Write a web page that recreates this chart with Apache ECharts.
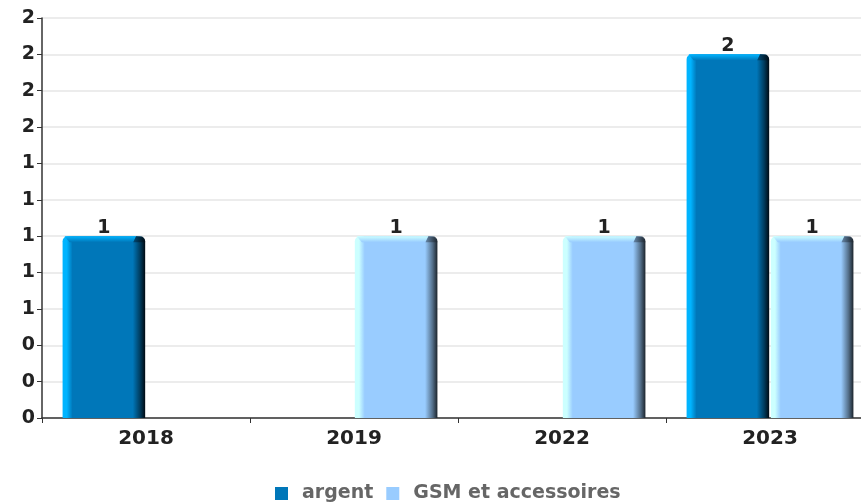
<!DOCTYPE html>
<html>
<head>
<meta charset="utf-8">
<style>
  html, body { margin: 0; padding: 0; background: #fff; }
  #chart { width: 861px; height: 504px; }
</style>
<script src="https://cdn.jsdelivr.net/npm/echarts@6/dist/echarts.min.js"></script>
</head>
<body>
<div id="chart"></div>
<script>
const years = ['2018', '2019', '2022', '2023'];
const seriesNames = ['argent', 'GSM et accessoires'];
const argentValues = [1, null, null, 2];
const gsmValues = [null, 1, 1, 1];
const yTicks = { min: 0, max: 2.2, step: 0.2 };

const FONT = '"DejaVu Sans", sans-serif';

// bevelled bar palettes: lit left/top edge, face, shaded right edge
const palettes = [
  { light: '#00b4ff', main: '#0077b9', dark: '#000a12' },
  { light: '#ccffff', main: '#99ccff', dark: '#1c242c' }
];

function toPairs(values) {
  return values
    .map((v, i) => (v == null ? null : [i, v]))
    .filter(p => p !== null);
}

function renderBevelBar(params, api) {
  const pal = palettes[params.seriesIndex];
  const cat = api.value(0);
  const val = api.value(1);
  const base = api.coord([cat, 0]);
  const top = api.coord([cat, val])[1];
  const catW = api.size([1, 0])[0];
  const bw = catW * 0.397;
  const gap = catW * 0.004;
  const x0 = params.seriesIndex === 0 ? base[0] - gap - bw : base[0] + gap;
  const x1 = x0 + bw;
  const h = base[1] - top;
  const bev = 6;

  const face = new echarts.graphic.LinearGradient(0, 0, 1, 0, [
    { offset: 0, color: pal.light },
    { offset: 0.05, color: pal.light },
    { offset: 0.12, color: pal.main },
    { offset: 0.85, color: pal.main },
    { offset: 0.94, color: echarts.color.lerp(0.55, [pal.main, pal.dark]) },
    { offset: 1, color: pal.dark }
  ]);
  const topShade = new echarts.graphic.LinearGradient(0, 0, 0, 1, [
    { offset: 0, color: pal.light },
    { offset: 1, color: pal.main }
  ]);
  const cornerShade = new echarts.graphic.LinearGradient(0, 0, 1, 0, [
    { offset: 0, color: echarts.color.lerp(0.4, [pal.main, pal.dark]) },
    { offset: 1, color: pal.dark }
  ]);

  return {
    type: 'group',
    children: [
      {
        type: 'rect',
        shape: { x: x0, y: top, width: bw, height: h, r: [5, 5, 0, 0] },
        style: { fill: face }
      },
      {
        type: 'polygon',
        shape: { points: [[x0 + 2, top], [x1 - 9, top], [x1 - 12, top + bev], [x0 + 7, top + bev]] },
        style: { fill: topShade }
      },
      {
        type: 'polygon',
        shape: { points: [[x1 - 9, top], [x1 - 3, top + 1], [x1, top + bev], [x1 - 12, top + bev]] },
        style: { fill: cornerShade }
      },
      {
        type: 'text',
        style: {
          text: String(val),
          x: (x0 + x1) / 2, y: top + 1,
          align: 'center', verticalAlign: 'bottom',
          font: 'bold 19px ' + FONT,
          fill: '#222'
        }
      }
    ]
  };
}

const chart = echarts.init(document.getElementById('chart'), null, { renderer: 'canvas' });
chart.setOption({
  animation: false,
  backgroundColor: '#ffffff',
  grid: {
    left: 42, width: 832, top: 18, height: 400,
    containLabel: false, outerBoundsMode: 'none'
  },
  legend: {
    left: 270, top: 479, itemWidth: 13, itemHeight: 13, itemGap: 13,
    icon: 'rect',
    textStyle: {
      fontFamily: FONT, fontWeight: 'bold', fontSize: 19, color: '#666',
      padding: [0, 0, 0, 9]
    },
    data: [
      { name: seriesNames[0], itemStyle: { color: palettes[0].main } },
      { name: seriesNames[1], itemStyle: { color: palettes[1].main } }
    ]
  },
  xAxis: {
    type: 'category', data: years,
    axisLine: { lineStyle: { color: '#333', width: 1.5 } },
    axisTick: { show: true, alignWithLabel: false, length: 5, lineStyle: { color: '#333' } },
    axisLabel: { fontFamily: FONT, fontWeight: 'bold', fontSize: 20, color: '#222', margin: 11 },
    splitLine: { show: false }
  },
  yAxis: {
    type: 'value', min: yTicks.min, max: yTicks.max, interval: yTicks.step,
    axisLine: { show: true, lineStyle: { color: '#333', width: 1.5 } },
    axisTick: { show: true, length: 5, lineStyle: { color: '#333' } },
    axisLabel: {
      fontFamily: FONT, fontWeight: 'bold', fontSize: 19, color: '#222', margin: 7,
      formatter: v => String(Math.round(v))
    },
    splitLine: { lineStyle: { color: '#e6e6e6', width: 1.5 } }
  },
  series: [
    {
      name: seriesNames[0], type: 'custom', data: toPairs(argentValues),
      encode: { x: 0, y: 1 }, clip: false,
      itemStyle: { color: palettes[0].main },
      renderItem: renderBevelBar
    },
    {
      name: seriesNames[1], type: 'custom', data: toPairs(gsmValues),
      encode: { x: 0, y: 1 }, clip: false,
      itemStyle: { color: palettes[1].main },
      renderItem: renderBevelBar
    }
  ]
});
</script>
</body>
</html>
